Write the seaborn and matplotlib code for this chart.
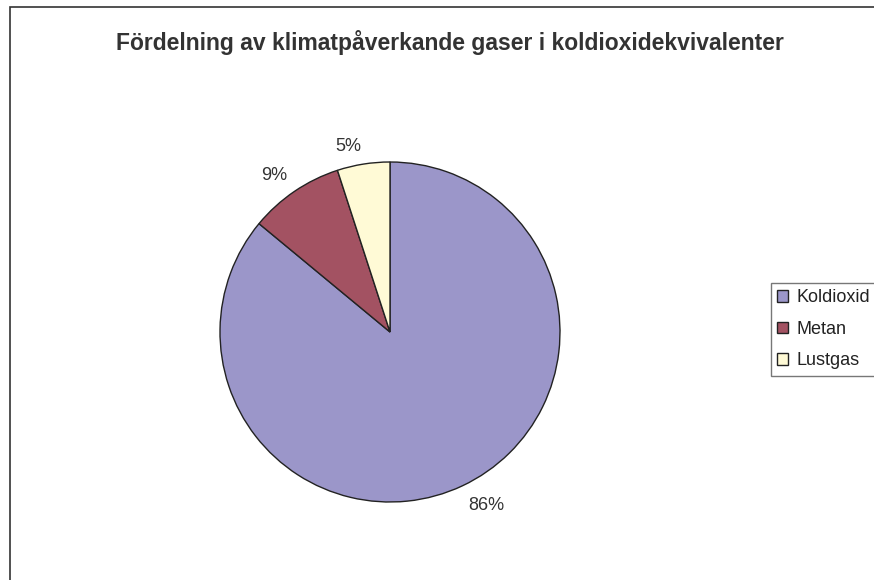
import matplotlib
matplotlib.use("Agg")
import numpy as np
import matplotlib.pyplot as plt
import seaborn as sns
from matplotlib.patches import Rectangle

sns.set_theme(style="white")
plt.rcParams['font.family'] = ['Liberation Sans', 'DejaVu Sans']

title = "Fördelning av klimatpåverkande gaser i koldioxidekvivalenter"
labels = ["Koldioxid", "Metan", "Lustgas"]
values = [86, 9, 5]
colors = ["#9b96c9", "#a35262", "#fffad6"]

W, H = 874, 580
fig = plt.figure(figsize=(W / 100, H / 100), dpi=100)
fig.patch.set_facecolor("white")

# outer chart border
fig.patches.append(Rectangle((10 / W, -0.1), 1.2, 1 - 7 / H + 0.1, transform=fig.transFigure,
                             fill=False, edgecolor="#333333", linewidth=1.2))

cx, cy, r = 390, 332, 170
ax = fig.add_axes([(cx - r) / W, 1 - (cy + r) / H, 2 * r / W, 2 * r / H])
wedges, texts = ax.pie(values, colors=colors, startangle=90, counterclock=False,
                       wedgeprops=dict(edgecolor="#222222", linewidth=1.0))
ax.set_xlim(-1, 1)
ax.set_ylim(-1, 1)
ax.set_aspect("auto")
ax.axis("off")

# percentage labels placed outside the end of each slice (Excel style)
total = sum(values)
for w, v in zip(wedges, values):
    ang = np.deg2rad((w.theta1 + w.theta2) / 2)
    dx, dy = np.cos(ang), np.sin(ang)
    rr = 1.08 if dy > 0 else 1.075
    ax.text(rr * dx, rr * dy, f"{100 * v / total:.0f}%",
            ha="left" if dx > 0 else "right",
            va="baseline" if dy > 0 else "top",
            fontsize=13, color="#333333")

fig.text(450 / W, 1 - 50 / H, title, ha="center", va="baseline", fontsize=16.5,
         fontweight="bold", color="#333333")

leg = fig.legend(wedges, labels, loc="upper left", bbox_to_anchor=(771 / W, 1 - 283 / H),
                 frameon=True, fancybox=False, fontsize=13, handlelength=0.6, handleheight=0.6,
                 handletextpad=0.45, labelspacing=0.8, borderpad=0.35, borderaxespad=0)
leg.get_frame().set_edgecolor("#555555")
leg.get_frame().set_linewidth(1.0)
for t in leg.get_texts():
    t.set_color("#222222")

fig.savefig("out.png", dpi=100)
